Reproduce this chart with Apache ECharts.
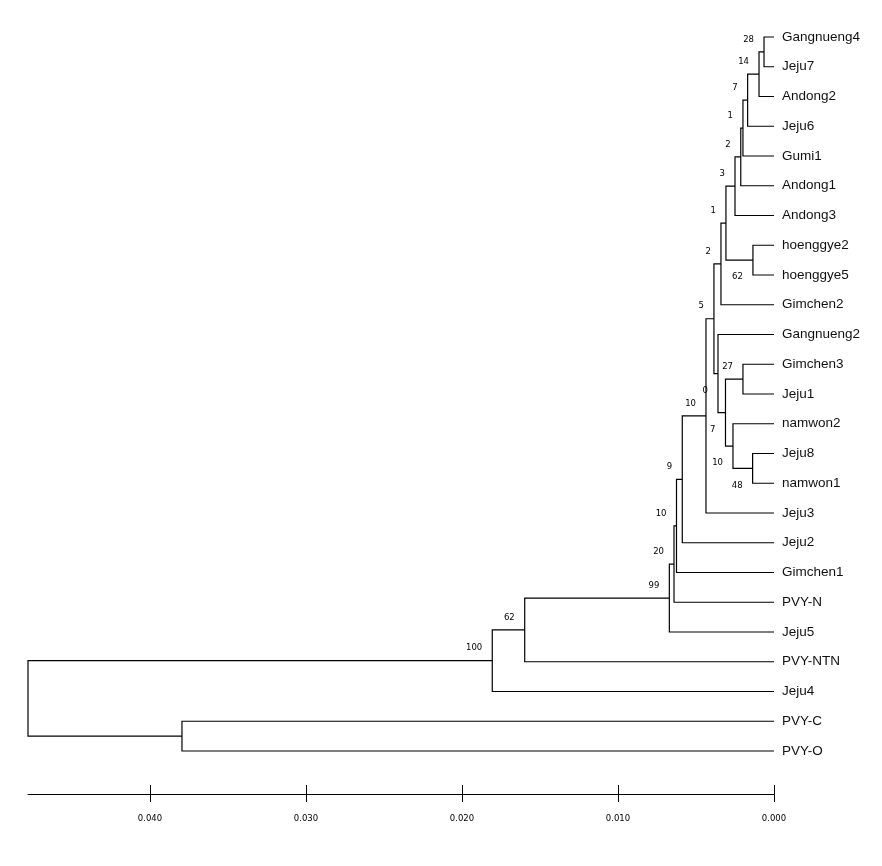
<!DOCTYPE html>
<html>
<head>
<meta charset="utf-8">
<script src="https://cdn.jsdelivr.net/npm/echarts@6/dist/echarts.min.js"></script>
<style>
html,body{margin:0;padding:0;background:#fff;}
#chart{width:882px;height:866px;}
</style>
</head>
<body>
<div id="chart"></div>
<script>
// ---- data ----
const leafNames = ['Gangnueng4','Jeju7','Andong2','Jeju6','Gumi1','Andong1','Andong3',
  'hoenggye2','hoenggye5','Gimchen2','Gangnueng2','Gimchen3','Jeju1','namwon2','Jeju8',
  'namwon1','Jeju3','Jeju2','Gimchen1','PVY-N','Jeju5','PVY-NTN','Jeju4','PVY-C','PVY-O'];

// internal nodes, children listed before parents
const nodeIds = ['A','B','C','D','E','F','G','H','I','J','K','L','M','N','O','P','Q','R','S','T','U','V','W','X'];
const nodeChildren = [
  ['Gangnueng4','Jeju7'], ['A','Andong2'], ['B','Jeju6'], ['C','Gumi1'], ['D','Andong1'],
  ['E','Andong3'], ['hoenggye2','hoenggye5'], ['F','G'], ['H','Gimchen2'], ['Gimchen3','Jeju1'],
  ['Jeju8','namwon1'], ['namwon2','K'], ['J','L'], ['Gangnueng2','M'], ['I','N'],
  ['O','Jeju3'], ['P','Jeju2'], ['Q','Gimchen1'], ['R','PVY-N'], ['S','Jeju5'],
  ['T','PVY-NTN'], ['U','Jeju4'], ['PVY-C','PVY-O'], ['V','W']
];
const nodeHeights = [0.00064,0.00096,0.00169,0.00199,0.00213,0.00250,0.00135,0.00308,0.00340,0.00199,
  0.00137,0.00263,0.00311,0.00359,0.00385,0.00436,0.00588,0.00625,0.00641,0.00671,
  0.01598,0.01806,0.03795,0.04782];
const nodeSupport = [28,14,7,1,2,3,62,1,2,27,48,10,7,0,5,10,9,10,20,99,62,100,null,null];

const tickValues = [0, 0.01, 0.02, 0.03, 0.04];
const axisMax = 0.04782;

// ---- build tree geometry in data space ----
const pos = {};
leafNames.forEach((n, i) => { pos[n] = { h: 0, y: i }; });
nodeIds.forEach((id, k) => {
  const [a, b] = nodeChildren[k];
  pos[id] = { h: nodeHeights[k], y: (pos[a].y + pos[b].y) / 2 };
});
const parentOf = {};
nodeIds.forEach((id, k) => { nodeChildren[k].forEach(c => { parentOf[c] = id; }); });

const branchData = nodeIds.map((id, k) => {
  const [a, b] = nodeChildren[k];
  const p = pos[id], A = pos[a], B = pos[b];
  return { coords: [[A.h, A.y], [p.h, A.y], [p.h, B.y], [B.h, B.y]] };
});

const supportData = [];
nodeIds.forEach((id, k) => {
  if (nodeSupport[k] === null) return;
  const par = parentOf[id];
  const below = par && pos[id].y > pos[par].y ? 1 : 0;
  supportData.push([pos[id].h, pos[id].y, nodeSupport[k], below]);
});
const leafData = leafNames.map((n, i) => [0, i]);

const chart = echarts.init(document.getElementById('chart'));
chart.setOption({
  animation: false,
  backgroundColor: '#fff',
  grid: { left: 28, right: 108, top: 7.25, bottom: 72 },
  xAxis: [{
    type: 'value', inverse: true, min: 0, max: axisMax, position: 'bottom',
    axisLine: { show: true, onZero: false, lineStyle: { color: '#000', width: 1 } },
    axisTick: { show: true, inside: true, length: 9, customValues: tickValues, lineStyle: { color: '#000' } },
    axisLabel: { show: true, customValues: tickValues, margin: 20,
      formatter: v => v.toFixed(3), color: '#000', fontSize: 8.5, fontFamily: 'DejaVu Sans' },
    splitLine: { show: false }
  }, {
    type: 'value', inverse: true, min: 0, max: axisMax, position: 'bottom', offset: 0,
    axisLine: { show: false, onZero: false },
    axisTick: { show: true, inside: false, length: 8, customValues: tickValues, lineStyle: { color: '#000' } },
    axisLabel: { show: false },
    splitLine: { show: false }
  }],
  yAxis: { type: 'value', inverse: true, min: -1, max: 25.445, show: false },
  series: [{
    type: 'lines',
    coordinateSystem: 'cartesian2d',
    polyline: true,
    silent: true,
    lineStyle: { color: '#000', width: 1.2, opacity: 1 },
    data: branchData
  }, {
    type: 'custom',
    coordinateSystem: 'cartesian2d',
    silent: true,
    data: supportData,
    renderItem: (params, api) => {
      const p = api.coord([api.value(0), api.value(1)]);
      const below = api.value(3) === 1;
      return {
        type: 'text',
        x: p[0] - 10, y: p[1] + (below ? 17 : -12.5),
        style: { text: String(api.value(2)), align: 'right', verticalAlign: 'middle',
          fill: '#000', font: '8.5px "DejaVu Sans"' }
      };
    }
  }, {
    type: 'custom',
    coordinateSystem: 'cartesian2d',
    silent: true,
    data: leafData,
    renderItem: (params, api) => {
      const p = api.coord([api.value(0), api.value(1)]);
      return {
        type: 'text',
        x: p[0] + 8, y: p[1],
        style: { text: leafNames[params.dataIndex], align: 'left', verticalAlign: 'middle',
          fill: '#111', font: '13.5px "Liberation Sans", Arial, sans-serif' }
      };
    }
  }]
});
</script>
</body>
</html>
